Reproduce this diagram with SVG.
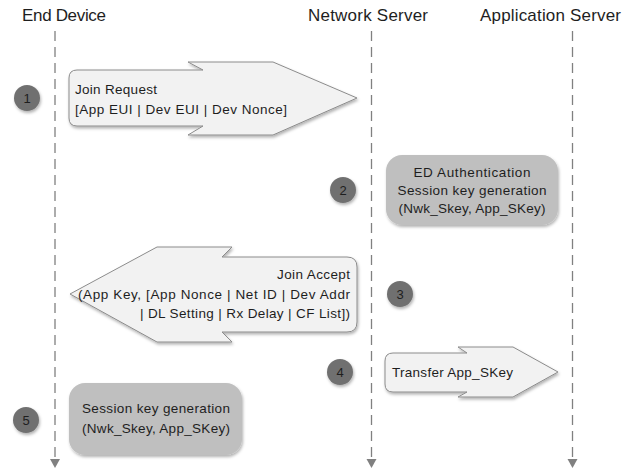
<svg xmlns="http://www.w3.org/2000/svg" width="633" height="470" viewBox="0 0 633 470">
<style>
text{font-family:"Liberation Sans",Arial,sans-serif;fill:#1e1e1e}
.title{font-size:17px}
.lbl{font-size:13.5px}
.num{font-size:13px;text-anchor:middle}
.life{stroke:#808080;stroke-width:1.3;stroke-dasharray:10 6;fill:none}
.head{fill:#808080}
.arrow{fill:#f2f2f2;stroke:#8c8c8c;stroke-width:1}
.box{fill:#bfbfbf}
.step{fill:#707070}
</style>
<defs>
<filter id="sh" x="-20%" y="-20%" width="140%" height="150%">
<feDropShadow dx="1" dy="2" stdDeviation="1.8" flood-color="#000" flood-opacity="0.3"/>
</filter>
</defs>
<rect width="633" height="470" fill="#fff"/>
<g id="titles">
<text class="title" x="22" y="21" textLength="84">End Device</text>
<text class="title" x="308" y="21" textLength="120">Network Server</text>
<text class="title" x="480" y="21" textLength="141">Application Server</text>
</g>
<g id="lifelines">
<line class="life" x1="55" y1="31" x2="55" y2="459"/>
<polygon class="head" points="50,459 60,459 55,468"/>
<line class="life" x1="371.5" y1="31" x2="371.5" y2="459"/>
<polygon class="head" points="366.5,459 376.5,459 371.5,468"/>
<line class="life" x1="572.5" y1="31" x2="572.5" y2="459"/>
<polygon class="head" points="567.5,459 577.5,459 572.5,468"/>
</g>
<g id="connectors">
<g id="join-request">
<path class="arrow" filter="url(#sh)" d="M77,70 L203,70 L188,62 L273,62 L357,98 L273,135 L188,135 L203,126 L77,126 Q69,126 69,118 L69,78 Q69,70 77,70 Z"/>
<text class="lbl" x="75" y="94" textLength="82">Join Request</text>
<text class="lbl" x="75" y="114" textLength="212">[App EUI | Dev EUI | Dev Nonce]</text>
</g>
<g id="join-accept">
<path class="arrow" filter="url(#sh)" d="M70,294 L157,247 L232,247 L222,257 L347,257 Q357,257 357,267 L357,322 Q357,332 347,332 L222,332 L232,342 L157,342 Z"/>
<text class="lbl" x="350" y="279" text-anchor="end" textLength="73">Join Accept</text>
<text class="lbl" x="350" y="299" text-anchor="end" textLength="272">(App Key, [App Nonce | Net ID | Dev Addr</text>
<text class="lbl" x="350" y="318" text-anchor="end" textLength="210">| DL Setting | Rx Delay | CF List])</text>
</g>
<g id="transfer">
<path class="arrow" filter="url(#sh)" d="M393,353 L467,353 L458,347 L513,347 L558,372 L513,397 L458,397 L467,392 L393,392 Q385,392 385,384 L385,361 Q385,353 393,353 Z"/>
<text class="lbl" x="392" y="377" textLength="121">Transfer App_SKey</text>
</g>
</g>
<g id="ns-process">
<rect class="box" filter="url(#sh)" x="386" y="155" width="172" height="70" rx="16"/>
<text class="lbl" x="472" y="177" text-anchor="middle" textLength="117">ED Authentication</text>
<text class="lbl" x="472" y="195" text-anchor="middle" textLength="149">Session key generation</text>
<text class="lbl" x="472" y="213" text-anchor="middle" textLength="147">(Nwk_Skey, App_SKey)</text>
</g>
<g id="ed-process">
<rect class="box" filter="url(#sh)" x="69" y="383" width="173" height="72" rx="16"/>
<text class="lbl" x="156" y="413" text-anchor="middle" textLength="148">Session key generation</text>
<text class="lbl" x="156" y="433" text-anchor="middle" textLength="148">(Nwk_Skey, App_SKey)</text>
</g>
<g id="step1"><circle class="step" filter="url(#sh)" cx="27" cy="98" r="13"/><text class="num" x="27" y="103">1</text></g>
<g id="step2"><circle class="step" filter="url(#sh)" cx="343" cy="190" r="13"/><text class="num" x="343" y="195">2</text></g>
<g id="step3"><circle class="step" filter="url(#sh)" cx="400" cy="294" r="13"/><text class="num" x="400" y="299">3</text></g>
<g id="step4"><circle class="step" filter="url(#sh)" cx="340" cy="372" r="13"/><text class="num" x="340" y="377">4</text></g>
<g id="step5"><circle class="step" filter="url(#sh)" cx="26" cy="420" r="13"/><text class="num" x="26" y="425">5</text></g>
</svg>
